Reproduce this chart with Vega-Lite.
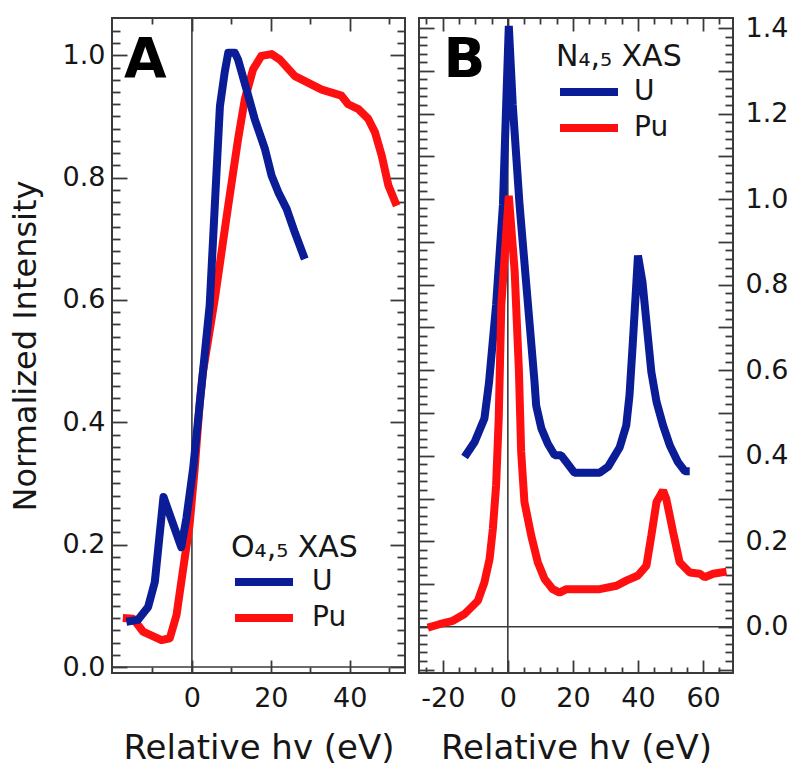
{
  "$schema": "https://vega.github.io/schema/vega-lite/v6.json",
  "padding": {"left": 8, "top": 13, "right": 0, "bottom": 0},
  "background": "white",
  "config": {
    "font": "DejaVu Sans",
    "view": {"stroke": "#3a3a3a", "strokeWidth": 2},
    "concat": {"spacing": 10},
    "axis": {
      "domain": false, "grid": false, "ticks": true, "tickOpacity": 1,
      "labelFont": "DejaVu Sans", "labelFontSize": 27, "labelColor": "#161616",
      "titleFont": "DejaVu Sans", "titleFontWeight": "normal", "titleColor": "#161616",
      "tickColor": "#3a3a3a", "tickWidth": 1.8,
      "labelFlush": false, "labelOverlap": false, "labelBound": false
    },
    "legend": {
      "orient": "none", "symbolType": "stroke", "symbolSize": 3364, "symbolStrokeWidth": 8,
      "clipHeight": 28, "rowPadding": 8, "padding": 0,
      "labelFont": "DejaVu Sans", "labelFontSize": 28, "labelColor": "#161616",
      "titleFont": "DejaVu Sans", "titleFontSize": 30, "titleFontWeight": "normal", "titleColor": "#161616",
      "titleLimit": 400, "symbolOffset": 0
    }
  },
  "datasets": {
    "O45": [
      {"series": "U", "hv": -16.6, "intensity": 0.074},
      {"series": "U", "hv": -13.7, "intensity": 0.077},
      {"series": "U", "hv": -11.1, "intensity": 0.098},
      {"series": "U", "hv": -9.4, "intensity": 0.139},
      {"series": "U", "hv": -8.2, "intensity": 0.215},
      {"series": "U", "hv": -7.2, "intensity": 0.278},
      {"series": "U", "hv": -2.7, "intensity": 0.196},
      {"series": "U", "hv": -1.4, "intensity": 0.243},
      {"series": "U", "hv": 0.3, "intensity": 0.324},
      {"series": "U", "hv": 1.6, "intensity": 0.406},
      {"series": "U", "hv": 4.5, "intensity": 0.591},
      {"series": "U", "hv": 5.8, "intensity": 0.754},
      {"series": "U", "hv": 7.1, "intensity": 0.917},
      {"series": "U", "hv": 8.3, "intensity": 0.972},
      {"series": "U", "hv": 9.2, "intensity": 1.004},
      {"series": "U", "hv": 10.9, "intensity": 1.004},
      {"series": "U", "hv": 11.7, "intensity": 0.993},
      {"series": "U", "hv": 13.8, "intensity": 0.945},
      {"series": "U", "hv": 15.9, "intensity": 0.896},
      {"series": "U", "hv": 18.5, "intensity": 0.847},
      {"series": "U", "hv": 20.2, "intensity": 0.803},
      {"series": "U", "hv": 21.9, "intensity": 0.776},
      {"series": "U", "hv": 24.0, "intensity": 0.749},
      {"series": "U", "hv": 26.1, "intensity": 0.71},
      {"series": "U", "hv": 28.6, "intensity": 0.667},
      {"series": "Pu", "hv": -17.5, "intensity": 0.08},
      {"series": "Pu", "hv": -14.9, "intensity": 0.079},
      {"series": "Pu", "hv": -12.4, "intensity": 0.058},
      {"series": "Pu", "hv": -7.7, "intensity": 0.044},
      {"series": "Pu", "hv": -5.6, "intensity": 0.047},
      {"series": "Pu", "hv": -3.9, "intensity": 0.085},
      {"series": "Pu", "hv": -2.2, "intensity": 0.161},
      {"series": "Pu", "hv": -0.6, "intensity": 0.232},
      {"series": "Pu", "hv": 0.7, "intensity": 0.324},
      {"series": "Pu", "hv": 2.0, "intensity": 0.433},
      {"series": "Pu", "hv": 2.8, "intensity": 0.482},
      {"series": "Pu", "hv": 5.8, "intensity": 0.602},
      {"series": "Pu", "hv": 9.2, "intensity": 0.754},
      {"series": "Pu", "hv": 11.7, "intensity": 0.863},
      {"series": "Pu", "hv": 13.4, "intensity": 0.928},
      {"series": "Pu", "hv": 15.5, "intensity": 0.977},
      {"series": "Pu", "hv": 17.6, "intensity": 0.999},
      {"series": "Pu", "hv": 20.2, "intensity": 1.002},
      {"series": "Pu", "hv": 22.3, "intensity": 0.993},
      {"series": "Pu", "hv": 26.1, "intensity": 0.966},
      {"series": "Pu", "hv": 29.5, "intensity": 0.955},
      {"series": "Pu", "hv": 32.9, "intensity": 0.944},
      {"series": "Pu", "hv": 37.9, "intensity": 0.934},
      {"series": "Pu", "hv": 39.6, "intensity": 0.92},
      {"series": "Pu", "hv": 42.2, "intensity": 0.912},
      {"series": "Pu", "hv": 44.7, "intensity": 0.896},
      {"series": "Pu", "hv": 46.4, "intensity": 0.874},
      {"series": "Pu", "hv": 48.1, "intensity": 0.836},
      {"series": "Pu", "hv": 49.8, "intensity": 0.787},
      {"series": "Pu", "hv": 51.9, "intensity": 0.754}
    ],
    "N45": [
      {"series": "U", "hv": -13.3, "intensity": 0.397},
      {"series": "U", "hv": -10.2, "intensity": 0.432},
      {"series": "U", "hv": -7.2, "intensity": 0.487},
      {"series": "U", "hv": -5.8, "intensity": 0.57},
      {"series": "U", "hv": -3.6, "intensity": 0.753},
      {"series": "U", "hv": -1.5, "intensity": 0.987},
      {"series": "U", "hv": -0.5, "intensity": 1.222},
      {"series": "U", "hv": 0.3, "intensity": 1.405},
      {"series": "U", "hv": 1.5, "intensity": 1.222},
      {"series": "U", "hv": 3.6, "intensity": 0.987},
      {"series": "U", "hv": 6.2, "intensity": 0.753},
      {"series": "U", "hv": 8.2, "intensity": 0.573},
      {"series": "U", "hv": 8.7, "intensity": 0.518},
      {"series": "U", "hv": 10.3, "intensity": 0.464},
      {"series": "U", "hv": 12.3, "intensity": 0.428},
      {"series": "U", "hv": 14.4, "intensity": 0.401},
      {"series": "U", "hv": 16.4, "intensity": 0.401},
      {"series": "U", "hv": 18.0, "intensity": 0.385},
      {"series": "U", "hv": 20.5, "intensity": 0.36},
      {"series": "U", "hv": 28.2, "intensity": 0.36},
      {"series": "U", "hv": 30.8, "intensity": 0.374},
      {"series": "U", "hv": 34.4, "intensity": 0.42},
      {"series": "U", "hv": 36.4, "intensity": 0.471},
      {"series": "U", "hv": 37.4, "intensity": 0.542},
      {"series": "U", "hv": 38.5, "intensity": 0.675},
      {"series": "U", "hv": 40.0, "intensity": 0.868},
      {"series": "U", "hv": 41.4, "intensity": 0.805},
      {"series": "U", "hv": 44.1, "intensity": 0.596},
      {"series": "U", "hv": 45.7, "intensity": 0.526},
      {"series": "U", "hv": 47.7, "intensity": 0.471},
      {"series": "U", "hv": 49.8, "intensity": 0.424},
      {"series": "U", "hv": 52.3, "intensity": 0.385},
      {"series": "U", "hv": 54.4, "intensity": 0.364},
      {"series": "U", "hv": 55.9, "intensity": 0.364},
      {"series": "Pu", "hv": -24.6, "intensity": -0.002},
      {"series": "Pu", "hv": -21.0, "intensity": 0.006},
      {"series": "Pu", "hv": -16.9, "intensity": 0.014},
      {"series": "Pu", "hv": -13.3, "intensity": 0.03},
      {"series": "Pu", "hv": -9.2, "intensity": 0.061},
      {"series": "Pu", "hv": -7.2, "intensity": 0.104},
      {"series": "Pu", "hv": -5.6, "intensity": 0.159},
      {"series": "Pu", "hv": -4.6, "intensity": 0.229},
      {"series": "Pu", "hv": -3.6, "intensity": 0.331},
      {"series": "Pu", "hv": -2.8, "intensity": 0.487},
      {"series": "Pu", "hv": -2.0, "intensity": 0.753},
      {"series": "Pu", "hv": 0.3, "intensity": 1.008},
      {"series": "Pu", "hv": 2.1, "intensity": 0.831},
      {"series": "Pu", "hv": 3.4, "intensity": 0.6},
      {"series": "Pu", "hv": 4.1, "intensity": 0.409},
      {"series": "Pu", "hv": 5.1, "intensity": 0.292},
      {"series": "Pu", "hv": 7.2, "intensity": 0.213},
      {"series": "Pu", "hv": 9.2, "intensity": 0.151},
      {"series": "Pu", "hv": 11.3, "intensity": 0.112},
      {"series": "Pu", "hv": 13.8, "intensity": 0.088},
      {"series": "Pu", "hv": 15.9, "intensity": 0.08},
      {"series": "Pu", "hv": 18.0, "intensity": 0.088},
      {"series": "Pu", "hv": 28.2, "intensity": 0.088},
      {"series": "Pu", "hv": 33.4, "intensity": 0.096},
      {"series": "Pu", "hv": 36.4, "intensity": 0.108},
      {"series": "Pu", "hv": 40.0, "intensity": 0.12},
      {"series": "Pu", "hv": 42.6, "intensity": 0.143},
      {"series": "Pu", "hv": 44.1, "intensity": 0.213},
      {"series": "Pu", "hv": 45.7, "intensity": 0.292},
      {"series": "Pu", "hv": 47.7, "intensity": 0.319},
      {"series": "Pu", "hv": 48.7, "intensity": 0.299},
      {"series": "Pu", "hv": 50.8, "intensity": 0.221},
      {"series": "Pu", "hv": 52.8, "intensity": 0.151},
      {"series": "Pu", "hv": 55.9, "intensity": 0.127},
      {"series": "Pu", "hv": 59.0, "intensity": 0.124},
      {"series": "Pu", "hv": 60.5, "intensity": 0.116},
      {"series": "Pu", "hv": 63.1, "intensity": 0.124},
      {"series": "Pu", "hv": 67.2, "intensity": 0.129}
    ],
    "origin": [{"hv": 0, "intensity": 0}],
    "labels": [
      {"panel": "A", "label": "A", "hv": -11.8, "intensity": 0.964},
      {"panel": "B", "label": "B", "hv": -13.3, "intensity": 1.285}
    ]
  },
  "resolve": {"legend": {"color": "independent"}, "scale": {"color": "independent"}},
  "hconcat": [
    {
      "width": 293,
      "height": 655,
      "resolve": {"axis": {"x": "independent", "y": "independent"}},
      "layer": [
        {
          "data": {"name": "origin"},
          "mark": {"type": "rule", "color": "#3a3a3a", "strokeWidth": 1.6},
          "encoding": {
            "x": {"field": "hv", "type": "quantitative",
              "scale": {"domain": [-20.25, 54.0], "nice": false, "zero": false},
              "axis": {"orient": "top", "values": [0, 20, 40], "labels": false, "title": null, "tickSize": 13, "offset": -13}}
          }
        },
        {
          "data": {"name": "origin"},
          "mark": {"type": "rule", "color": "#3a3a3a", "strokeWidth": 1.6},
          "encoding": {
            "y": {"field": "intensity", "type": "quantitative",
              "scale": {"domain": [-0.0098, 1.061], "nice": false, "zero": false},
              "axis": {"orient": "right", "values": [0, 0.2, 0.4, 0.6, 0.8, 1.0], "labels": false, "title": null, "tickSize": 15, "offset": -15}}
          }
        },
        {
          "data": {"name": "O45"},
          "transform": [{"filter": "datum.series === 'Pu'"}],
          "mark": {"type": "line", "strokeWidth": 8, "strokeJoin": "round", "strokeCap": "butt"},
          "encoding": {
            "x": {"field": "hv", "type": "quantitative", "scale": {"domain": [-20.25, 54.0], "nice": false, "zero": false},
              "axis": {"orient": "bottom", "values": [-10, 10, 30, 50], "labels": false, "title": null, "tickSize": 6, "offset": -6}},
            "y": {"field": "intensity", "type": "quantitative", "scale": {"domain": [-0.0098, 1.061], "nice": false, "zero": false},
              "axis": {"orient": "left", "labels": false, "title": null, "tickSize": 8, "offset": -8,
                "values": [0.02,0.04,0.06,0.08,0.1,0.12,0.14,0.16,0.18,0.22,0.24,0.26,0.28,0.3,0.32,0.34,0.36,0.38,0.42,0.44,0.46,0.48,0.5,0.52,0.54,0.56,0.58,0.62,0.64,0.66,0.68,0.7,0.72,0.74,0.76,0.78,0.82,0.84,0.86,0.88,0.9,0.92,0.94,0.96,0.98,1.02,1.04]}},
            "color": {"field": "series", "type": "nominal",
              "scale": {"domain": ["U", "Pu"], "range": ["#0a1c96", "#ff1010"]},
              "legend": {"title": "O₄,₅ XAS", "legendX": 119, "legendY": 515, "labelOffset": 15, "titlePadding": 5}}
          }
        },
        {
          "data": {"name": "O45"},
          "transform": [{"filter": "datum.series === 'U'"}],
          "mark": {"type": "line", "strokeWidth": 8, "strokeJoin": "round", "strokeCap": "butt"},
          "encoding": {
            "x": {"field": "hv", "type": "quantitative",
              "scale": {"domain": [-20.25, 54.0], "nice": false, "zero": false},
              "axis": {"orient": "bottom", "values": [0, 20, 40], "labelExpr": "'' + datum.value", "tickSize": 13, "offset": -13,
                "labelPadding": 12, "title": "Relative hv (eV)", "titleFontSize": 34, "titlePadding": 20}},
            "y": {"field": "intensity", "type": "quantitative",
              "scale": {"domain": [-0.0098, 1.061], "nice": false, "zero": false},
              "axis": {"orient": "left", "values": [0, 0.2, 0.4, 0.6, 0.8, 1.0], "labelExpr": "format(datum.value, '.1f')", "tickSize": 15, "offset": -15,
                "labelPadding": 7, "title": "Normalized Intensity", "titleFontSize": 32, "titlePadding": 20}},
            "color": {"field": "series", "type": "nominal", "scale": {"domain": ["U", "Pu"], "range": ["#0a1c96", "#ff1010"]}}
          }
        },
        {
          "data": {"name": "labels"},
          "transform": [{"filter": "datum.panel === 'A'"}],
          "mark": {"type": "text", "font": "DejaVu Sans", "fontWeight": "bold", "fontSize": 55, "align": "center", "baseline": "alphabetic", "color": "#000000"},
          "encoding": {
            "x": {"field": "hv", "type": "quantitative", "scale": {"domain": [-20.25, 54.0], "nice": false, "zero": false},
              "axis": {"orient": "top", "values": [-10, 10, 30, 50], "labels": false, "title": null, "tickSize": 6, "offset": -6}},
            "y": {"field": "intensity", "type": "quantitative", "scale": {"domain": [-0.0098, 1.061], "nice": false, "zero": false},
              "axis": {"orient": "right", "labels": false, "title": null, "tickSize": 8, "offset": -8,
                "values": [0.02,0.04,0.06,0.08,0.1,0.12,0.14,0.16,0.18,0.22,0.24,0.26,0.28,0.3,0.32,0.34,0.36,0.38,0.42,0.44,0.46,0.48,0.5,0.52,0.54,0.56,0.58,0.62,0.64,0.66,0.68,0.7,0.72,0.74,0.76,0.78,0.82,0.84,0.86,0.88,0.9,0.92,0.94,0.96,0.98,1.02,1.04]}},
            "text": {"field": "label"}
          }
        }
      ]
    },
    {
      "width": 314,
      "height": 655,
      "resolve": {"axis": {"x": "independent", "y": "independent"}},
      "layer": [
        {
          "data": {"name": "origin"},
          "mark": {"type": "rule", "color": "#3a3a3a", "strokeWidth": 1.6},
          "encoding": {
            "x": {"field": "hv", "type": "quantitative",
              "scale": {"domain": [-27.3, 69.2], "nice": false, "zero": false},
              "axis": {"orient": "top", "values": [-20, 0, 20, 40, 60], "labels": false, "title": null, "tickSize": 13, "offset": -13}}
          }
        },
        {
          "data": {"name": "origin"},
          "mark": {"type": "rule", "color": "#3a3a3a", "strokeWidth": 1.6},
          "encoding": {
            "y": {"field": "intensity", "type": "quantitative",
              "scale": {"domain": [-0.108, 1.4235], "nice": false, "zero": false},
              "axis": {"orient": "left", "labels": false, "title": null, "tickSize": 15, "offset": -15,
                "values": [-0.1,0,0.1,0.2,0.3,0.4,0.5,0.6,0.7,0.8,0.9,1,1.1,1.2,1.3,1.4]}}
          }
        },
        {
          "data": {"name": "N45"},
          "transform": [{"filter": "datum.series === 'U'"}],
          "mark": {"type": "line", "strokeWidth": 8, "strokeJoin": "bevel", "strokeCap": "butt"},
          "encoding": {
            "x": {"field": "hv", "type": "quantitative",
              "scale": {"domain": [-27.3, 69.2], "nice": false, "zero": false},
              "axis": {"orient": "bottom", "values": [-20, 0, 20, 40, 60], "labelExpr": "'' + datum.value",
                "tickSize": 13, "offset": -13, "labelPadding": 12, "title": "Relative hv (eV)", "titleFontSize": 34, "titlePadding": 20}},
            "y": {"field": "intensity", "type": "quantitative",
              "scale": {"domain": [-0.108, 1.4235], "nice": false, "zero": false},
              "axis": {"orient": "right", "values": [-0.1,0,0.1,0.2,0.3,0.4,0.5,0.6,0.7,0.8,0.9,1,1.1,1.2,1.3,1.4],
                "labelExpr": "abs(datum.value*5 - round(datum.value*5)) < 0.001 ? format(datum.value, '.1f') : ''",
                "tickSize": 15, "offset": -15, "labelPadding": 12, "title": null}},
            "color": {"field": "series", "type": "nominal",
              "scale": {"domain": ["U", "Pu"], "range": ["#0a1c96", "#ff1010"]},
              "legend": {"title": "N₄,₅ XAS", "legendX": 137, "legendY": 24, "labelOffset": 12, "titlePadding": 6}}
          }
        },
        {
          "data": {"name": "N45"},
          "transform": [{"filter": "datum.series === 'Pu'"}],
          "mark": {"type": "line", "strokeWidth": 8, "strokeJoin": "bevel", "strokeCap": "butt"},
          "encoding": {
            "x": {"field": "hv", "type": "quantitative", "scale": {"domain": [-27.3, 69.2], "nice": false, "zero": false},
              "axis": {"orient": "bottom", "values": [-25,-15,-10,-5,5,10,15,25,30,35,45,50,55,65], "labels": false, "title": null, "tickSize": 6, "offset": -6}},
            "y": {"field": "intensity", "type": "quantitative", "scale": {"domain": [-0.108, 1.4235], "nice": false, "zero": false},
              "axis": {"orient": "right", "labels": false, "title": null, "tickSize": 8, "offset": -8,
                "values": [-0.08,-0.06,-0.04,-0.02,0.02,0.04,0.06,0.08,0.12,0.14,0.16,0.18,0.22,0.24,0.26,0.28,0.32,0.34,0.36,0.38,0.42,0.44,0.46,0.48,0.52,0.54,0.56,0.58,0.62,0.64,0.66,0.68,0.72,0.74,0.76,0.78,0.82,0.84,0.86,0.88,0.92,0.94,0.96,0.98,1.02,1.04,1.06,1.08,1.12,1.14,1.16,1.18,1.22,1.24,1.26,1.28,1.32,1.34,1.36,1.38]}},
            "color": {"field": "series", "type": "nominal", "scale": {"domain": ["U", "Pu"], "range": ["#0a1c96", "#ff1010"]}}
          }
        },
        {
          "data": {"name": "labels"},
          "transform": [{"filter": "datum.panel === 'B'"}],
          "mark": {"type": "text", "font": "DejaVu Sans", "fontWeight": "bold", "fontSize": 55, "align": "center", "baseline": "alphabetic", "color": "#000000"},
          "encoding": {
            "x": {"field": "hv", "type": "quantitative", "scale": {"domain": [-27.3, 69.2], "nice": false, "zero": false},
              "axis": {"orient": "top", "values": [-25,-15,-10,-5,5,10,15,25,30,35,45,50,55,65], "labels": false, "title": null, "tickSize": 6, "offset": -6}},
            "y": {"field": "intensity", "type": "quantitative", "scale": {"domain": [-0.108, 1.4235], "nice": false, "zero": false},
              "axis": {"orient": "left", "labels": false, "title": null, "tickSize": 8, "offset": -8,
                "values": [-0.08,-0.06,-0.04,-0.02,0.02,0.04,0.06,0.08,0.12,0.14,0.16,0.18,0.22,0.24,0.26,0.28,0.32,0.34,0.36,0.38,0.42,0.44,0.46,0.48,0.52,0.54,0.56,0.58,0.62,0.64,0.66,0.68,0.72,0.74,0.76,0.78,0.82,0.84,0.86,0.88,0.92,0.94,0.96,0.98,1.02,1.04,1.06,1.08,1.12,1.14,1.16,1.18,1.22,1.24,1.26,1.28,1.32,1.34,1.36,1.38]}},
            "text": {"field": "label"}
          }
        }
      ]
    }
  ]
}
